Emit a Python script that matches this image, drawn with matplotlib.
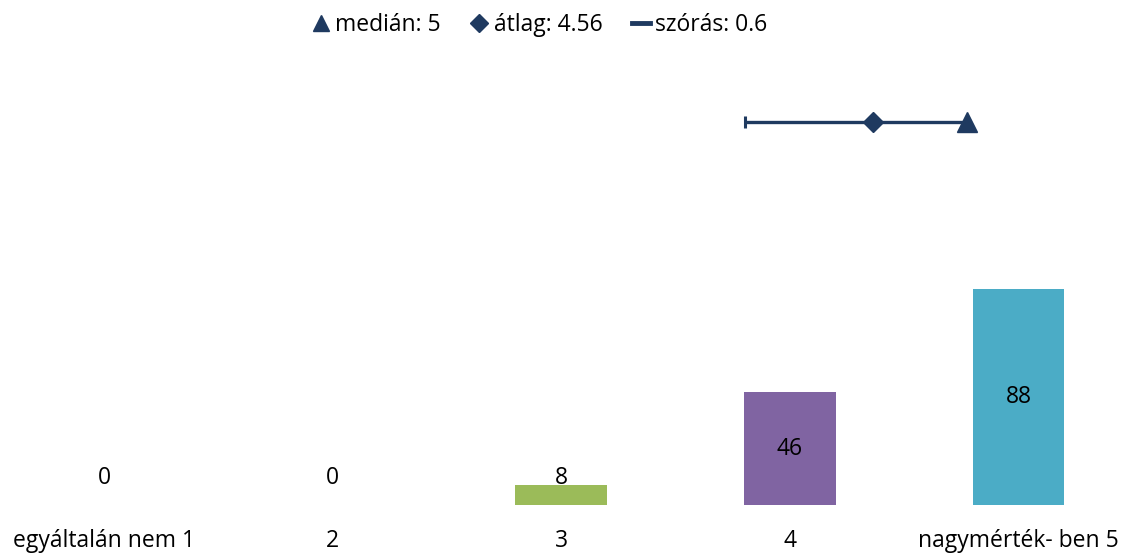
import matplotlib
matplotlib.use("Agg")
import matplotlib.pyplot as plt
from matplotlib.lines import Line2D

plt.rcParams["font.family"] = ["Open Sans", "DejaVu Sans"]

categories = ["egyáltalán nem 1", "2", "3", "4", "nagymérték- ben 5"]
counts = [0, 0, 8, 46, 88]
bar_colors = ["#4F81BD", "#C0504D", "#9BBB59", "#8064A2", "#4BACC6"]

median = 5
mean = 4.56
std = 0.6

NAVY = "#1F3A60"
FS = 16.5

fig = plt.figure(figsize=(11.26, 5.54), dpi=100)

# main bar axes: baseline at y=505px
bottom = (554 - 505) / 554
ax = fig.add_axes([0, bottom, 1, 1 - bottom])
x = list(range(len(categories)))
ax.bar(x, counts, width=0.4, color=bar_colors)
ax.set_xlim(-104 / 228.6, (1126 - 104) / 228.6)
ax.set_ylim(0, 505 / 2.455)
for xi, v in zip(x, counts):
    ax.text(xi, max(v / 2, 11), str(v), ha="center", va="center", fontsize=FS)
for xi, lab in zip(x, categories):
    ax.text(xi, -14.5, lab, ha="center", va="center", fontsize=FS)
ax.axis("off")

# summary axes (1..5 scale)
ax2 = fig.add_axes([0, bottom, 1, 1 - bottom])
ax2.set_xlim(5 - 967 / 213.6, 5 + (1126 - 967) / 213.6)
ax2.set_ylim(ax.get_ylim())
ax2.axis("off")
yline = 156
ax2.errorbar([mean], [yline], xerr=[[std], [0]], fmt="none", ecolor=NAVY,
             elinewidth=2.4, capsize=4, capthick=2.2)
ax2.plot([mean, median], [yline, yline], color=NAVY, lw=2.4)
ax2.plot([mean], [yline], marker="D", color=NAVY, ms=10.5, ls="none")
ax2.plot([median], [yline], marker="^", color=NAVY, ms=14, ls="none")

handles = [
    Line2D([], [], marker="^", color=NAVY, ls="none", ms=12),
    Line2D([], [], marker="D", color=NAVY, ls="none", ms=9),
    Line2D([], [], color=NAVY, lw=3.5),
]
labels = [f"medián: {median}", f"átlag: {mean}", f"szórás: {std}"]
fig.legend(handles, labels, loc="center", bbox_to_anchor=(540 / 1126, 1 - 25 / 554),
           ncol=3, frameon=False, fontsize=FS, handlelength=0.75, handletextpad=0.25,
           columnspacing=1.3)

fig.savefig("out.png", dpi=100)
